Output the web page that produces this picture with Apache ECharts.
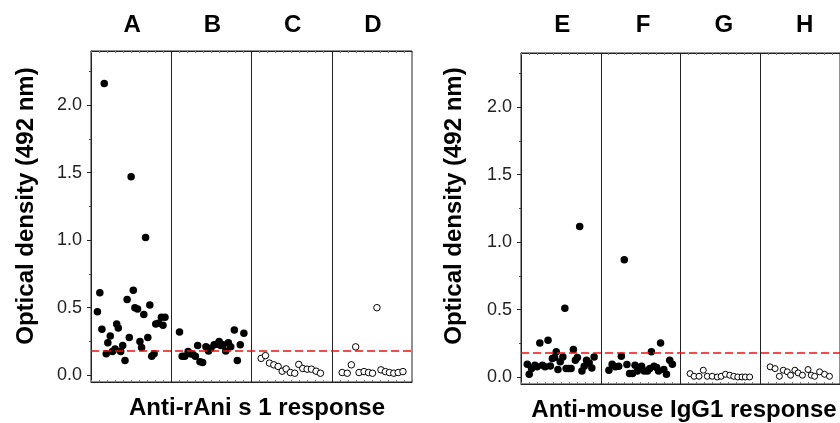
<!DOCTYPE html>
<html>
<head>
<meta charset="utf-8">
<script src="https://cdn.jsdelivr.net/npm/echarts@6/dist/echarts.min.js"></script>
<style>
  html, body { margin: 0; padding: 0; background: #fff; }
  #main { width: 840px; height: 423px; }
</style>
</head>
<body>
<div id="main"></div>
<script>
var chartDom = document.getElementById('main');
var myChart = echarts.init(chartDom);
var option;

const FONT = "'Liberation Sans', Arial, sans-serif";
const CUTOFF = 0.18;

const panelLetters = ['A', 'B', 'C', 'D', 'E', 'F', 'G', 'H'];
const majorTicks = [0, 0.5, 1.0, 1.5, 2.0];
const minorTicks = [0.25, 0.75, 1.25, 1.75, 2.25];

// horizontal position inside each sub-panel (0-100) and optical density
const posA = [8, 11, 16.5, 13.6, 19, 21, 24, 26.7, 30, 32, 34, 37, 39.5, 42.4, 45, 47.7, 50, 52.7, 54.7, 58, 61, 63, 65.8, 68, 70.8, 73.3, 75.7, 78.6, 80.7, 84, 87.7, 89.7, 92.2];
const odA  = [0.47, 0.61, 2.16, 0.34, 0.16, 0.24, 0.29, 0.175, 0.195, 0.38, 0.35, 0.175, 0.22, 0.11, 0.56, 0.28, 1.47, 0.63, 0.50, 0.49, 0.25, 0.205, 0.45, 1.02, 0.28, 0.52, 0.14, 0.16, 0.38, 0.385, 0.43, 0.37, 0.43];

const posB = [10.3, 13.6, 16.9, 21, 23.5, 26.7, 30, 32.9, 35.8, 39.1, 43.2, 46.5, 49.4, 53.5, 56.4, 59.7, 61.7, 64.6, 67.9, 71.2, 74.1, 78.6, 82.3, 86, 90.5];
const odB  = [0.32, 0.14, 0.14, 0.175, 0.16, 0.155, 0.14, 0.22, 0.10, 0.095, 0.21, 0.18, 0.20, 0.225, 0.23, 0.25, 0.22, 0.225, 0.18, 0.24, 0.21, 0.335, 0.11, 0.225, 0.31];

const posC = [12, 17.4, 22.4, 27.8, 33.2, 38.2, 43.2, 48.5, 53.9, 58.9, 63.9, 69.3, 74.7, 80.5, 85.9];
const odC  = [0.125, 0.145, 0.09, 0.077, 0.065, 0.03, 0.047, 0.02, 0.015, 0.08, 0.05, 0.045, 0.045, 0.03, 0.015];

const posD = [13, 19.3, 24.4, 29.8, 34, 40.3, 45.8, 50.8, 56.3, 61.3, 66.8, 71.8, 77.3, 82.8, 88.7];
const odD  = [0.02, 0.015, 0.077, 0.21, 0.02, 0.027, 0.02, 0.015, 0.50, 0.04, 0.027, 0.02, 0.015, 0.02, 0.027];

const posE = [7.9, 10.3, 13.2, 17.4, 20.2, 23.6, 26.9, 30.2, 33.9, 36.8, 39.3, 42.1, 44.2, 46.3, 49.2, 52.5, 55, 56.6, 59.9, 62.8, 65.7, 68.2, 70.7, 73.6, 76.4, 79.3, 82.2, 85.5, 88.8, 91.7];
const odE  = [0.096, 0.022, 0.064, 0.089, 0.077, 0.254, 0.089, 0.077, 0.274, 0.084, 0.138, 0.146, 0.188, 0.057, 0.114, 0.15, 0.51, 0.064, 0.064, 0.064, 0.205, 0.126, 0.146, 1.116, 0.047, 0.081, 0.126, 0.106, 0.069, 0.15];

const posF = [10.2, 14.3, 18.4, 22.5, 25.8, 29.5, 32.8, 36.1, 39.8, 43, 45.9, 48.4, 51.2, 54.5, 58.6, 61.5, 63.5, 66.8, 70.1, 72.5, 75, 79.1, 82.4, 86.5, 89.8];
const odF  = [0.052, 0.096, 0.077, 0.081, 0.156, 0.87, 0.094, 0.027, 0.027, 0.089, 0.047, 0.064, 0.081, 0.047, 0.047, 0.064, 0.188, 0.081, 0.072, 0.047, 0.254, 0.057, 0.022, 0.126, 0.096];

const posG = [12, 17, 23.2, 28.6, 33.6, 39.8, 46.1, 51, 56.4, 61.8, 66.8, 71.8, 77.2, 81.3, 86.7];
const odG  = [0.027, 0.007, 0.007, 0.052, 0.007, 0.007, 0.002, 0.007, 0.022, 0.015, 0.007, 0.002, 0.002, 0.002, 0.002];

const posH = [12.4, 18.6, 24, 28.9, 33.9, 38, 43.4, 47.5, 52.9, 59.9, 64, 68.2, 74.4, 80.6, 86.8];
const odH  = [0.077, 0.064, 0.007, 0.052, 0.04, 0.015, 0.052, 0.032, 0.015, 0.057, 0.015, 0.007, 0.04, 0.022, 0.007];

const panels = [
  { pos: posA, od: odA, grid: 0, slot: 0, filled: true },
  { pos: posB, od: odB, grid: 0, slot: 1, filled: true },
  { pos: posC, od: odC, grid: 0, slot: 2, filled: false },
  { pos: posD, od: odD, grid: 0, slot: 3, filled: false },
  { pos: posE, od: odE, grid: 1, slot: 0, filled: true },
  { pos: posF, od: odF, grid: 1, slot: 1, filled: true },
  { pos: posG, od: odG, grid: 1, slot: 2, filled: false },
  { pos: posH, od: odH, grid: 1, slot: 3, filled: false }
];

const grids = [
  { left: 91, top: 51, width: 321, height: 331 },
  { left: 521, top: 53, width: 323, height: 331 }
];

function makeXAxis(g, where) {
  return {
    type: 'value', gridIndex: g, min: 0, max: 400, interval: 10,
    position: where,
    axisLine: { show: true, onZero: false, lineStyle: { color: '#222', width: 1 } },
    axisTick: { show: true, inside: true, length: 2, lineStyle: { color: '#777' } },
    axisLabel: { show: false },
    splitLine: { show: false }
  };
}

function makeYAxis(g) {
  return {
    type: 'value', gridIndex: g, min: -0.05, max: 2.4, position: 'left',
    axisLine: { show: true, onZero: false, lineStyle: { color: '#222', width: 1 } },
    axisTick: { show: true, length: 4, customValues: majorTicks, lineStyle: { color: '#222' } },
    axisLabel: {
      show: true, customValues: majorTicks, margin: 9,
      color: '#222', fontFamily: FONT, fontSize: 18,
      formatter: v => v.toFixed(1)
    },
    splitLine: { show: false }
  };
}

function makeMinorYAxis(g) {
  return {
    type: 'value', gridIndex: g, min: -0.05, max: 2.4, position: 'left', offset: 0,
    axisLine: { show: false, onZero: false },
    axisTick: { show: true, length: 2, customValues: minorTicks, lineStyle: { color: '#444' } },
    axisLabel: { show: false },
    splitLine: { show: false }
  };
}

function getSeries() {
  let series = panels.map(p => {
    const small = (p.grid === 1 && !p.filled);
    return {
      type: 'scatter',
      xAxisIndex: p.grid * 2,
      yAxisIndex: p.grid * 2,
      symbol: 'circle',
      symbolSize: p.filled ? 7.5 : (small ? 6 : 6.5),
      data: p.pos.map((x, i) => [p.slot * 100 + x, p.od[i]]),
      itemStyle: p.filled
        ? { color: '#000', opacity: 1 }
        : { color: '#fff', borderColor: '#000', borderWidth: 1, opacity: 1 },
      silent: true,
      z: 3
    };
  });
  // sub-panel dividers and the red cut-off line
  [0, 1].forEach(g => {
    series.push({
      type: 'scatter', xAxisIndex: g * 2, yAxisIndex: g * 2, data: [], silent: true,
      markLine: {
        silent: true, symbol: ['none', 'none'], label: { show: false },
        lineStyle: { color: '#222', width: 1, type: 'solid' },
        data: [{ xAxis: 100 }, { xAxis: 200 }, { xAxis: 300 }]
      }
    });
    series.push({
      type: 'scatter', xAxisIndex: g * 2, yAxisIndex: g * 2, data: [], silent: true,
      markLine: {
        silent: true, symbol: ['none', 'none'], label: { show: false },
        lineStyle: { color: '#ee1111', width: 1.5, type: [8, 4] },
        data: [{ yAxis: CUTOFF }]
      }
    });
  });
  return series;
}

function getGraphics() {
  let items = [];
  panelLetters.forEach((letter, i) => {
    const g = grids[i < 4 ? 0 : 1];
    const slot = i % 4;
    items.push({
      type: 'text',
      x: g.left + g.width * (slot + 0.5) / 4 + 1,
      y: 25,
      style: { text: letter, font: 'bold 24px ' + FONT, fill: '#000', align: 'center', verticalAlign: 'middle' }
    });
  });
  items.push({
    type: 'text', x: 257, y: 408,
    style: { text: 'Anti-rAni s 1 response', font: 'bold 24px ' + FONT, fill: '#000', align: 'center', verticalAlign: 'middle' }
  });
  items.push({
    type: 'text', x: 684, y: 410,
    style: { text: 'Anti-mouse IgG1 response', font: 'bold 24px ' + FONT, fill: '#000', align: 'center', verticalAlign: 'middle' }
  });
  [26, 454].forEach(x => {
    items.push({
      type: 'text', x: x, y: 206, rotation: Math.PI / 2,
      style: { text: 'Optical density (492 nm)', font: 'bold 24px ' + FONT, fill: '#000', align: 'center', verticalAlign: 'middle' }
    });
  });
  return items;
}

option = {
  backgroundColor: '#fff',
  animation: false,
  grid: grids.map(g => Object.assign({ show: true, borderColor: '#222', borderWidth: 1, backgroundColor: 'transparent' }, g)),
  xAxis: [makeXAxis(0, 'bottom'), makeXAxis(0, 'top'), makeXAxis(1, 'bottom'), makeXAxis(1, 'top')],
  yAxis: [makeYAxis(0), makeMinorYAxis(0), makeYAxis(1), makeMinorYAxis(1)],
  series: getSeries(),
  graphic: getGraphics()
};

option && myChart.setOption(option);
</script>
</body>
</html>
